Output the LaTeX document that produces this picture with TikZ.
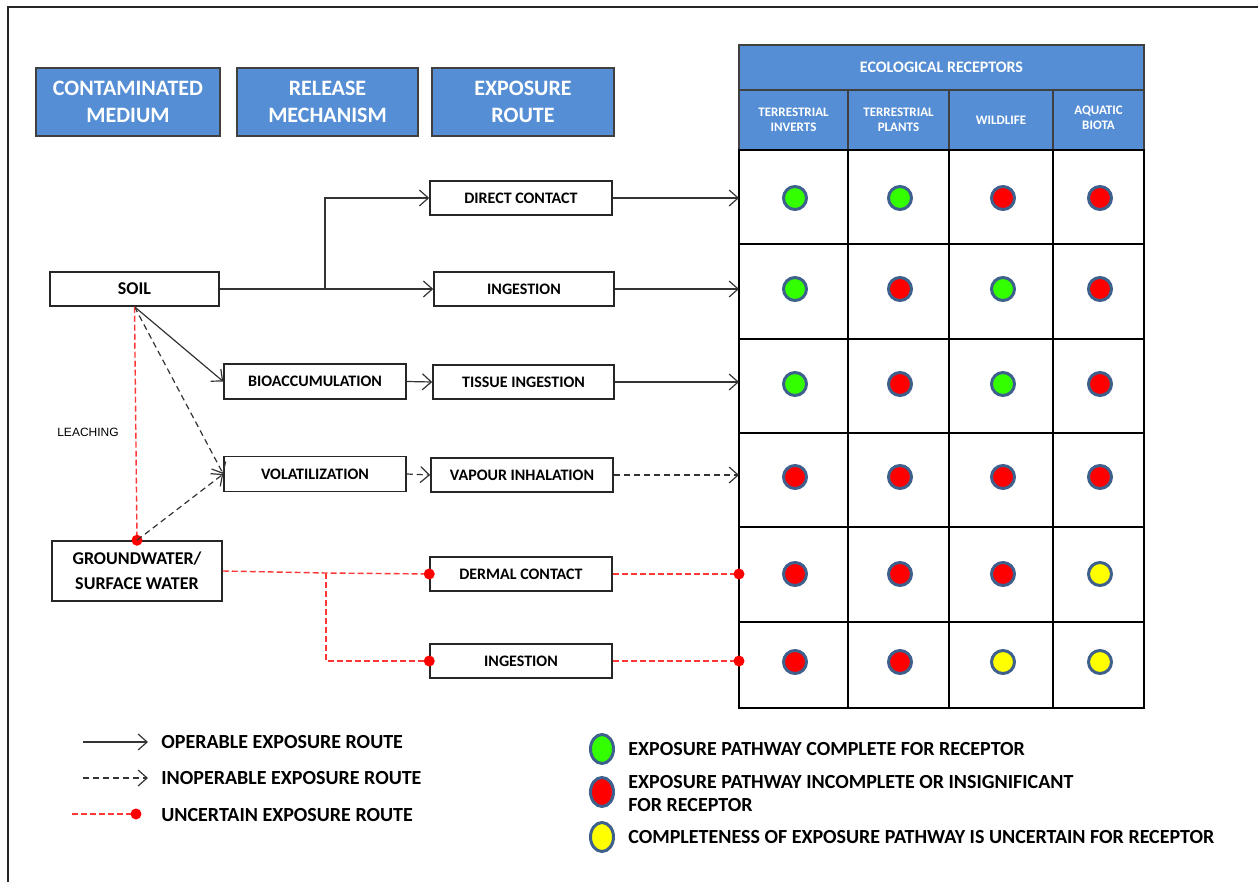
\documentclass[tikz,border=0pt]{standalone}
\usepackage{fontspec}
\setmainfont{Carlito}
\newfontfamily\arialf{Liberation Sans}
\usetikzlibrary{arrows.meta,shapes.geometric}
\definecolor{hdr}{RGB}{85,142,213}
\definecolor{rim}{RGB}{62,96,140}
\definecolor{okg}{RGB}{51,255,0}
\definecolor{bad}{RGB}{255,0,0}
\definecolor{unc}{RGB}{255,255,0}
\definecolor{rline}{RGB}{255,55,55}
\begin{document}
\begin{tikzpicture}[x=0.5pt,y=-0.5pt,
  box/.style={draw=black!85, line width=0.75pt, fill=white, inner sep=0pt, align=center,
    font=\bfseries\fontsize{8}{9}\selectfont},
  hbox/.style={draw=black!75, line width=0.6pt, fill=hdr, text=white, inner sep=0pt, align=center,
    font=\bfseries\fontsize{11}{13.5}\selectfont},
  htxt/.style={text=white, inner sep=0pt, align=center, font=\bfseries\fontsize{6.5}{7.5}\selectfont},
  op/.style={draw=black!80, line width=0.6pt, -{Straight Barb[length=4.5pt,width=8pt]}},
  inop/.style={op, dash pattern=on 3pt off 2pt},
  uncline/.style={draw=rline, line width=0.7pt, dash pattern=on 3pt off 1.5pt},
  rdot/.style={circle, fill=red, inner sep=0pt, minimum size=5.5pt},
  rc/.style={circle, draw=rim, line width=1.5pt, inner sep=0pt, minimum size=11.5pt},
  lc/.style={ellipse, draw=rim, line width=1.5pt, inner sep=0pt, minimum width=11.5pt, minimum height=14.5pt},
  legtxt/.style={anchor=west, inner sep=0pt, align=left, font=\bfseries\fontsize{10}{11.5}\selectfont},
  gridline/.style={draw=black, line width=1pt}
]
\useasboundingbox (0,0) rectangle (1258,882);
% frame
\draw[black!85, line width=1pt] (1258,7) -- (8,7) -- (8,882);

% column headers
\node[hbox, minimum width=92pt, minimum height=34pt] (hcm) at (128,102) {CONTAMINATED\\MEDIUM};
\node[hbox, minimum width=90.5pt, minimum height=34pt] (hrm) at (327.5,102) {RELEASE\\MECHANISM};
\node[hbox, minimum width=91pt, minimum height=34pt] (her) at (523,102) {EXPOSURE\\ROUTE};

% receptor table
\fill[hdr] (739,45) rectangle (1144,150);
\draw[black!75, line width=0.6pt] (739,45) rectangle (1144,150);
\draw[black!75, line width=0.6pt] (739,90) -- (1144,90);
\foreach \x in {848,949,1053} \draw[black!75, line width=0.6pt] (\x,90) -- (\x,150);
\node[htxt, font=\bfseries\fontsize{8}{9}\selectfont] (eco) at (941.5,67) {ECOLOGICAL RECEPTORS};
\node[htxt] (ti) at (793.5,120) {TERRESTRIAL\\INVERTS};
\node[htxt] (tp) at (898.5,120) {TERRESTRIAL\\PLANTS};
\node[htxt] (wl) at (1001,120) {WILDLIFE};
\node[htxt] (ab) at (1098.5,118) {AQUATIC\\BIOTA};
\draw[gridline] (739,150) rectangle (1144,708);
\foreach \y in {150,244,339,433,527,622} \draw[gridline] (739,\y) -- (1144,\y);
\foreach \x in {848,949,1053} \draw[gridline] (\x,150) -- (\x,708);

% grid circles
\node[rc, fill=okg] (c11) at (795,198) {};
\node[rc, fill=okg] (c12) at (900,198) {};
\node[rc, fill=bad] (c13) at (1003,198) {};
\node[rc, fill=bad] (c14) at (1100,198) {};
\node[rc, fill=okg] (c21) at (795,289) {};
\node[rc, fill=bad] (c22) at (900,289) {};
\node[rc, fill=okg] (c23) at (1003,289) {};
\node[rc, fill=bad] (c24) at (1100,289) {};
\node[rc, fill=okg] (c31) at (795,384) {};
\node[rc, fill=bad] (c32) at (900,384) {};
\node[rc, fill=okg] (c33) at (1003,384) {};
\node[rc, fill=bad] (c34) at (1100,384) {};
\node[rc, fill=bad] (c41) at (795,477) {};
\node[rc, fill=bad] (c42) at (900,477) {};
\node[rc, fill=bad] (c43) at (1003,477) {};
\node[rc, fill=bad] (c44) at (1100,477) {};
\node[rc, fill=bad] (c51) at (795,574) {};
\node[rc, fill=bad] (c52) at (900,574) {};
\node[rc, fill=bad] (c53) at (1003,574) {};
\node[rc, fill=unc] (c54) at (1100,574) {};
\node[rc, fill=bad] (c61) at (795,662) {};
\node[rc, fill=bad] (c62) at (900,662) {};
\node[rc, fill=unc] (c63) at (1003,662) {};
\node[rc, fill=unc] (c64) at (1100,662) {};

% row entry points
\coordinate (g1) at (739,198);
\coordinate (g2) at (739,289);
\coordinate (g3) at (739,382);
\coordinate (g4) at (739,475);
\coordinate (g5) at (739,574);
\coordinate (g6) at (739,661);

% process boxes
\node[box, minimum width=84.5pt, minimum height=17pt, font=\bfseries\fontsize{9}{10}\selectfont] (soil) at (134.5,289) {SOIL};
\node[box, minimum width=85pt, minimum height=30pt, font=\bfseries\fontsize{9}{12.5}\selectfont] (gw) at (137,571) {GROUNDWATER/\\SURFACE WATER};
\node[box, minimum width=91pt, minimum height=17.5pt] (bio) at (315,381.5) {BIOACCUMULATION};
\node[box, minimum width=91pt, minimum height=17.5pt] (vol) at (315,474) {VOLATILIZATION};
\node[box, minimum width=91pt, minimum height=17pt] (dc) at (521,198) {DIRECT CONTACT};
\node[box, minimum width=90pt, minimum height=17pt] (ing) at (524,289) {INGESTION};
\node[box, minimum width=90.5pt, minimum height=17pt] (tis) at (523.5,382) {TISSUE INGESTION};
\node[box, minimum width=91pt, minimum height=17pt] (vap) at (522,475) {VAPOUR INHALATION};
\node[box, minimum width=91pt, minimum height=17pt] (der) at (521,574) {DERMAL CONTACT};
\node[box, minimum width=91pt, minimum height=17pt] (ing2) at (521,661) {INGESTION};

\node[font=\arialf\fontsize{6}{7}\selectfont, inner sep=0pt] (leach) at (88,432) {LEACHING};

% connectors from soil
\coordinate (js) at (325,289);
\draw[op] (soil.east) -- (js) |- (dc.west);
\draw[op] (js) -- (ing.west);
\draw[op] (soil.south) -- (bio.west);
\draw[inop] (soil.south) -- (vol.west);
\draw[uncline] (soil.south) -- (gw.north);
\node[rdot] (gwdot) at (gw.north) {};
\draw[inop] (gw.north) -- (vol.west);

\draw[op] (bio.east) -- (tis.west);
\draw[inop] (vol.east) -- (vap.west);

\draw[op] (dc.east) -- (g1);
\draw[op] (ing.east) -- (g2);
\draw[op] (tis.east) -- (g3);
\draw[inop] (vap.east) -- (g4);

% uncertain routes from groundwater
\coordinate (jg) at (326,573);
\draw[uncline] (gw.east) -- (jg) -- (der.west);
\draw[uncline] (jg) |- (ing2.west);
\node[rdot] (d1) at (der.west) {};
\node[rdot] (d2) at (ing2.west) {};
\draw[uncline] (der.east) -- (g5);
\draw[uncline] (ing2.east) -- (g6);
\node[rdot] (d3) at (g5) {};
\node[rdot] (d4) at (g6) {};

% legend (routes)
\coordinate (la1) at (83,742); \coordinate (lb1) at (148,742);
\coordinate (la2) at (83,778); \coordinate (lb2) at (148,778);
\coordinate (la3) at (72,814); \coordinate (lb3) at (136,814);
\draw[op] (la1) -- (lb1);
\draw[inop] (la2) -- (lb2);
\draw[uncline] (la3) -- (lb3);
\node[rdot] (ld3) at (lb3) {};
\node[legtxt] (lt1) at (161,742) {OPERABLE EXPOSURE ROUTE};
\node[legtxt] (lt2) at (161,778) {INOPERABLE EXPOSURE ROUTE};
\node[legtxt] (lt3) at (161,815) {UNCERTAIN EXPOSURE ROUTE};

% legend (circles)
\node[lc, fill=okg] (lc1) at (602,749) {};
\node[lc, fill=bad] (lc2) at (602,792) {};
\node[lc, fill=unc] (lc3) at (602,837) {};
\node[legtxt] (lt4) at (628,749) {EXPOSURE PATHWAY COMPLETE FOR RECEPTOR};
\node[legtxt] (lt5) at (628,793.5) {EXPOSURE PATHWAY INCOMPLETE OR INSIGNIFICANT\\FOR RECEPTOR};
\node[legtxt] (lt6) at (628,837) {COMPLETENESS OF EXPOSURE PATHWAY IS UNCERTAIN FOR RECEPTOR};
\end{tikzpicture}
\end{document}
